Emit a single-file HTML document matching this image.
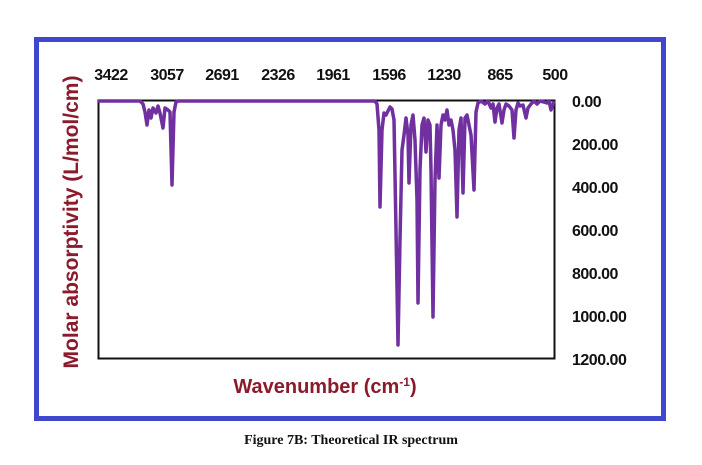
<!DOCTYPE html>
<html><head><meta charset="utf-8"><style>
body{margin:0;background:#fff;width:702px;height:460px;overflow:hidden;font-family:"Liberation Sans",sans-serif}
</style></head><body>
<svg width="702" height="460" viewBox="0 0 702 460" xmlns="http://www.w3.org/2000/svg">
<rect x="36.5" y="39.5" width="627" height="379" fill="#fff" stroke="#3f48cc" stroke-width="5"/>
<g font-family="Liberation Sans, sans-serif" font-size="16" font-weight="bold" fill="#111" text-anchor="middle" letter-spacing="-0.5">
<text x="111" y="80">3422</text><text x="167" y="80">3057</text><text x="222" y="80">2691</text>
<text x="278" y="80">2326</text><text x="333" y="80">1961</text><text x="389" y="80">1596</text>
<text x="444" y="80">1230</text><text x="500" y="80">865</text><text x="555" y="80">500</text>
</g>
<g font-family="Liberation Sans, sans-serif" font-size="16" font-weight="bold" fill="#111" text-anchor="start" letter-spacing="-0.5">
<text x="572" y="107">0.00</text><text x="572" y="150">200.00</text><text x="572" y="193">400.00</text>
<text x="572" y="236">600.00</text><text x="572" y="279">800.00</text><text x="572" y="322">1000.00</text>
<text x="572" y="365">1200.00</text>
</g>
<rect x="98.5" y="100.5" width="456" height="258" fill="none" stroke="#111" stroke-width="2"/>
<polyline fill="none" stroke="#7030a0" stroke-width="3.5" stroke-linejoin="round" points="
98,101 140,101 143,104 145,112 147,125 149,110 151,118 153,108 156,113 158,106 160,113 163,128 165,108 168,110 170,112 172,185 174,112 176,102 178,101
375,101 377,104 379,130 380,207 382,130 384,113 386,115 388,111 390,107 392,109 394,120 396,230 398,345 400,240 402,150 404,135 406,118 408,135 409,183 411,125 413,115 415,140 417,200 418,303 420,170 422,125 424,118 426,152 428,120 430,125 431,170 433,317 435,180 437,125 439,178 441,125 443,115 445,120 447,110 449,125 451,120 453,130 455,150 457,217 459,130 461,118 463,193 465,118 467,115 469,125 471,135 474,190 476,112 478,103 481,101 485,104 488,101 491,108 493,104 495,122 497,108 499,104 502,123 504,110 506,104 509,106 512,110 514,138 516,110 518,103 520,106 523,105 526,118 528,108 531,104 534,101 537,104 540,101 544,102 547,103 549,101 551,110 553,104 554,101"/>
<text transform="translate(78,222) rotate(-90)" font-family="Liberation Sans, sans-serif" font-size="21" font-weight="bold" fill="#8b1a2b" text-anchor="middle">Molar absorptivity (L/mol/cm)</text>
<text x="325" y="393" font-family="Liberation Sans, sans-serif" font-size="20" font-weight="bold" fill="#8b1a2b" text-anchor="middle">Wavenumber (cm<tspan dy="-7" font-size="12">-1</tspan><tspan dy="7">)</tspan></text>
<text x="351" y="444" font-family="Liberation Serif, serif" font-size="14" font-weight="bold" fill="#111" text-anchor="middle">Figure 7B: Theoretical IR spectrum</text>
</svg>
</body></html>
